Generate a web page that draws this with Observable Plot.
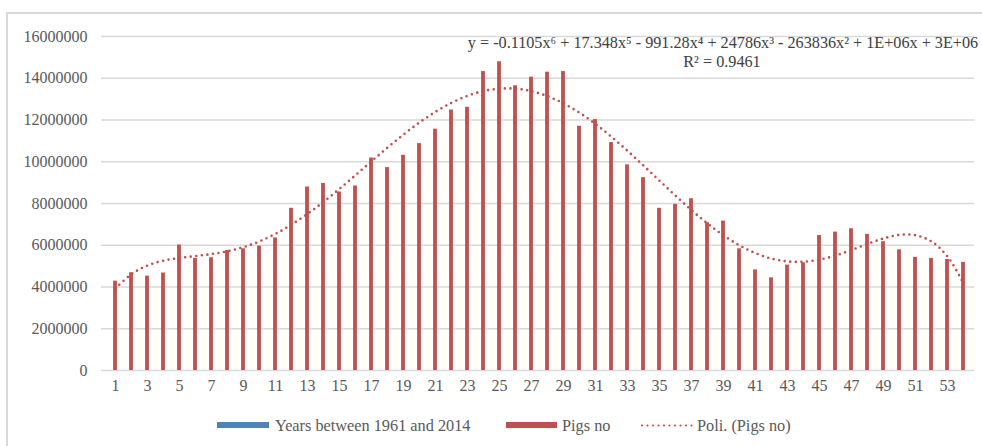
<!DOCTYPE html>
<html>
<head>
<meta charset="utf-8">
<script src="https://cdn.jsdelivr.net/npm/d3@7"></script>
<script src="https://cdn.jsdelivr.net/npm/@observablehq/plot@0.6"></script>
<style>
  html, body { margin: 0; padding: 0; background: #fff; }
  #wrap { position: relative; width: 982px; height: 446px; overflow: hidden; font-family: "Liberation Serif", "DejaVu Serif", serif; }
  #frame { position: absolute; left: 6px; top: 12px; right: -20px; bottom: -20px; border: 2px solid #d9d9d9; pointer-events: none; }
  #chart { position: absolute; left: 0; top: 0; }
  #legend { position: absolute; left: 0; top: 405px; width: 982px; height: 41px; font-size: 16.3px; color: #595959; }
  .item { position: absolute; top: 0; height: 41px; line-height: 41px; white-space: nowrap; }
  .sw { position: absolute; top: 17px; height: 6px; }
</style>
</head>
<body>
<div id="wrap">
  <div id="frame"></div>
  <div id="chart"></div>
  <div id="legend"></div>
</div>
<script>
// ---- data ----
const years = [1,2,3,4,5,6,7,8,9,10,11,12,13,14,15,16,17,18,19,20,21,22,23,24,25,26,27,28,29,30,31,32,33,34,35,36,37,38,39,40,41,42,43,44,45,46,47,48,49,50,51,52,53,54];
const pigs = [4280000,4680000,4520000,4670000,6010000,5370000,5400000,5750000,5830000,5960000,
              6350000,7770000,8790000,8960000,8550000,8840000,10180000,9720000,10310000,10870000,
              11560000,12480000,12610000,14320000,14790000,13640000,14050000,14290000,14320000,11700000,
              12020000,10920000,9850000,9240000,7770000,7960000,8230000,7080000,7160000,5830000,
              4820000,4440000,5050000,5160000,6470000,6630000,6790000,6520000,6170000,5780000,
              5420000,5370000,5320000,5180000];
const yTicks = [0,2000000,4000000,6000000,8000000,10000000,12000000,14000000,16000000];
const xTickLabels = [1,3,5,7,9,11,13,15,17,19,21,23,25,27,29,31,33,35,37,39,41,43,45,47,49,51,53];
const equation = "y = -0.1105x\u2076 + 17.348x\u2075 - 991.28x\u2074 + 24786x\u00B3 - 263836x\u00B2 + 1E+06x + 3E+06";
const rSquared = "R\u00B2 = 0.9461";
const legendItems = ["Years between 1961 and 2014", "Pigs no", "Poli. (Pigs no)"];

// ---- 6th-order polynomial least-squares fit of the bars (Excel "Poly." trendline) ----
function polyfit(xs, ys, deg) {
  const mx = (d3.min(xs) + d3.max(xs)) / 2, sx = (d3.max(xs) - d3.min(xs)) / 2;
  const n = deg + 1;
  const A = Array.from({length: n}, () => new Array(n + 1).fill(0));
  xs.forEach((x, k) => {
    const t = (x - mx) / sx;
    const p = Array.from({length: n}, (_, i) => Math.pow(t, i));
    for (let i = 0; i < n; i++) {
      for (let j = 0; j < n; j++) A[i][j] += p[i] * p[j];
      A[i][n] += p[i] * ys[k];
    }
  });
  for (let c = 0; c < n; c++) {
    let piv = c;
    for (let r = c + 1; r < n; r++) if (Math.abs(A[r][c]) > Math.abs(A[piv][c])) piv = r;
    [A[c], A[piv]] = [A[piv], A[c]];
    for (let r = 0; r < n; r++) {
      if (r === c) continue;
      const f = A[r][c] / A[c][c];
      for (let j = c; j <= n; j++) A[r][j] -= f * A[c][j];
    }
  }
  const coef = A.map((row, i) => row[n] / row[i]);
  return x => { const t = (x - mx) / sx; return coef.reduce((s, c, i) => s + c * Math.pow(t, i), 0); };
}
const fit = polyfit(years, pigs, 6);
const table = years.map((y, i) => ({year: y, pigs: pigs[i], trend: fit(y)}));

const red = "#C0504D", blue = "#4F81BD", grid = "#d9d9d9", ink = "#595959";

const chart = Plot.plot({
  width: 982,
  height: 405,
  marginLeft: 102,
  marginRight: 7,
  marginTop: 36,
  marginBottom: 35,
  style: {fontFamily: "'Liberation Serif', serif", fontSize: "16px", color: ink, background: "transparent"},
  x: {type: "band", domain: years, padding: 0, align: 0.5, label: null, ticks: xTickLabels, tickSize: 0, tickPadding: 9},
  y: {domain: [0, 16000000], ticks: yTicks, tickFormat: d3.format("d"), label: null, tickSize: 0, tickPadding: 15},
  marks: [
    Plot.ruleY(yTicks, {stroke: grid, strokeWidth: 1.5, dx: -1}),
    Plot.barY(table, {x: "year", y: "pigs", fill: red, insetLeft: 6.1, insetRight: 6.1}),
    Plot.line(table, {x: "year", y: "trend", stroke: red, strokeWidth: 2.6, strokeDasharray: "0 5.6", strokeLinecap: "round", curve: "catmull-rom"}),
    Plot.text([equation], {frameAnchor: "top", dx: 184, dy: 6, lineAnchor: "middle", fill: "#404040", fontSize: 16.2}),
    Plot.text([rSquared], {frameAnchor: "top", dx: 183, dy: 25, lineAnchor: "middle", fill: "#404040", fontSize: 16.2})
  ]
});
document.getElementById("chart").appendChild(chart);

// ---- legend (below the svg) ----
const legend = d3.select("#legend");
const li1 = legend.append("div").attr("class", "item").style("left", "217px");
li1.append("div").attr("class", "sw").style("left", "0px").style("width", "52px").style("background", blue);
li1.append("span").style("margin-left", "58px").text(legendItems[0]);
const li2 = legend.append("div").attr("class", "item").style("left", "506px");
li2.append("div").attr("class", "sw").style("left", "0px").style("width", "51px").style("background", red);
li2.append("span").style("margin-left", "56px").text(legendItems[1]);
const li3 = legend.append("div").attr("class", "item").style("left", "640px");
const svgL = li3.append("svg").attr("width", 54).attr("height", 41).style("position", "absolute").style("left", "0px").style("top", "0px");
svgL.append("line").attr("x1", 2).attr("x2", 52).attr("y1", 20.5).attr("y2", 20.5)
  .attr("stroke", red).attr("stroke-width", 2.2).attr("stroke-dasharray", "0 5.5").attr("stroke-linecap", "round");
li3.append("span").style("margin-left", "57px").text(legendItems[2]);
</script>
</body>
</html>
